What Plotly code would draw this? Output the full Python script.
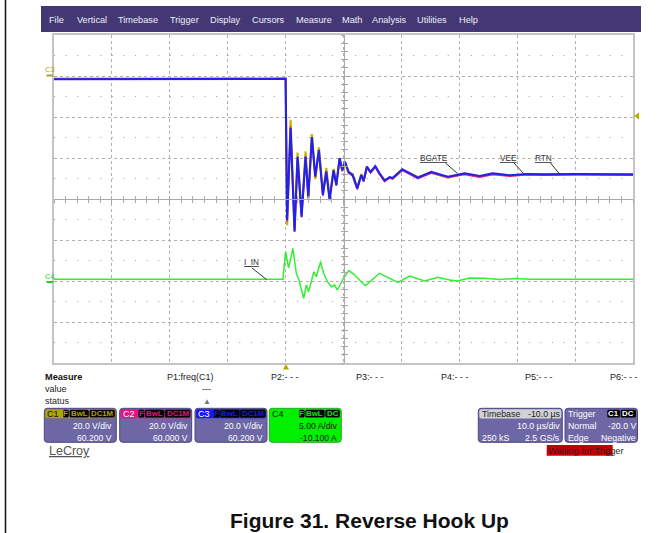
import plotly.graph_objects as go

W, H = 668, 533

# ---------------- data ----------------
# time in microseconds relative to the trigger point
t_v = [-40, -20, -0.3, 0.0, 0.26, 0.86, 1.55, 2.07, 2.76, 3.45, 3.92, 4.54, 5.13, 5.75,
       6.44, 7.03, 7.60, 8.29, 8.76, 9.33, 9.79, 10.24, 10.88, 11.57, 12.38, 13.07, 13.47,
       14.04, 14.68, 15.49, 16.23, 17.10, 17.96, 18.48, 20.15, 21.42, 22.85, 25.16, 28.03,
       30.92, 33.51, 35.8, 38.69, 41.6, 44.7, 50.0, 60.0]
# C1 (BGATE) volts
v_c1 = [-1.5, -1.5, -1.5, -1.4, -73.0, -21.5, -74.5, -37.5, -67.5, -37.0, -60.0, -28.5,
        -50.5, -35.0, -57.5, -45.0, -59.5, -45.5, -53.0, -40.5, -46.5, -42.5, -47.5, -48.0,
        -54.5, -48.0, -51.0, -44.8, -47.3, -44.5, -48.0, -51.0, -49.8, -50.3, -46.0, -47.5,
        -49.5, -47.4, -49.8, -47.9, -49.3, -48.1, -48.8, -48.3, -48.4, -48.3, -48.4]
# C2 (VEE) volts
v_c2 = [-1.6, -1.6, -1.6, -1.5, -71.0, -24.5, -75.5, -40.0, -69.0, -39.0, -59.5, -30.5,
        -49.0, -36.5, -58.5, -46.5, -60.0, -46.5, -53.5, -40.0, -46.5, -42.0, -47.2, -48.8,
        -55.3, -48.3, -51.6, -44.8, -47.2, -44.4, -47.9, -51.5, -49.7, -50.2, -46.0, -47.9,
        -50.0, -47.3, -49.5, -48.0, -49.3, -48.0, -48.9, -48.2, -48.4, -48.2, -48.4]
# C3 (RTN) volts
v_c3 = [-1.8, -1.8, -1.8, -1.6, -70.4, -25.6, -76.2, -39.6, -68.8, -39.6, -59.1, -30.0,
        -49.3, -36.3, -58.2, -46.9, -60.7, -46.1, -53.4, -40.3, -46.1, -42.0, -47.0, -48.5,
        -55.0, -48.5, -51.4, -44.4, -47.0, -44.1, -47.7, -51.2, -49.5, -50.0, -45.7, -47.7,
        -49.8, -47.0, -49.3, -47.7, -49.0, -47.7, -48.6, -48.0, -48.2, -48.0, -48.2]
# C4 (I_IN) amps
t_i = [-40, -0.47, 0.0, 0.52, 1.26, 1.85, 2.30, 3.11, 3.58, 3.97, 4.89, 5.30, 6.04, 6.56,
       7.25, 7.89, 8.46, 8.93, 9.90, 10.93, 11.74, 13.77, 16.23, 19.40, 21.42, 24.01, 26.30,
       28.32, 29.7, 31.8, 34.4, 36.96, 39.55, 42.1, 60.0]
i_c4 = [0.31, 0.31, 3.67, 1.69, 4.09, 1.04, 0.22, -2.01, -0.39, -1.20, 1.23, 0.62, 2.45,
        1.04, -0.02, -0.60, -0.39, -1.00, 0.31, 1.36, 0.95, -0.47, 1.04, -0.06, 0.71, 0.10,
        0.55, 0.22, 0.10, 0.47, 0.44, 0.28, 0.40, 0.32, 0.32]

# channel settings (scale per division, offset)
c1_scale, c1_off = 20.0, 60.2
c2_scale, c2_off = 20.0, 60.0
c3_scale, c3_off = 20.0, 60.2
c4_scale, c4_off = 5.0, -10.1

menu_items = ["File", "Vertical", "Timebase", "Trigger", "Display", "Cursors", "Measure",
              "Math", "Analysis", "Utilities", "Help"]
menu_x = [48, 76, 116.5, 169, 209, 250.5, 294.5, 341, 371, 416, 457.5]

FONT = "Liberation Sans, Arial, sans-serif"

def X(x):
    return x / W

def Y(y):
    return 1 - y / H

def to_div(vals, scale, off):
    return [(v + off) / scale for v in vals]

fig = go.Figure()

fig.add_trace(go.Scatter(x=t_v, y=to_div(v_c1, c1_scale, c1_off), mode="lines",
                         line=dict(color="#c4b400", width=2.2), hoverinfo="skip", showlegend=False))
fig.add_trace(go.Scatter(x=t_v, y=to_div(v_c2, c2_scale, c2_off), mode="lines",
                         line=dict(color="#ee2288", width=1.6), hoverinfo="skip", showlegend=False))
fig.add_trace(go.Scatter(x=t_v, y=to_div(v_c3, c3_scale, c3_off), mode="lines",
                         line=dict(color="#2222ee", width=2.1), hoverinfo="skip", showlegend=False))
fig.add_trace(go.Scatter(x=t_i, y=to_div(i_c4, c4_scale, c4_off), mode="lines",
                         line=dict(color="#33ee33", width=1.5), hoverinfo="skip", showlegend=False))
# dummy traces for the centre-axis overlays
fig.add_trace(go.Scatter(x=[], y=[], xaxis="x2", yaxis="y", showlegend=False))
fig.add_trace(go.Scatter(x=[], y=[], xaxis="x3", yaxis="y", showlegend=False))
fig.add_trace(go.Scatter(x=[], y=[], xaxis="x", yaxis="y2", showlegend=False))
fig.add_trace(go.Scatter(x=[], y=[], xaxis="x", yaxis="y3", showlegend=False))

xdom = [X(54), X(633)]
ydom = [Y(363), Y(35)]
xr = [-40, 60]
yr = [-4, 4]
cx = X(343.5)
cy = Y(199)

common_grid = dict(showgrid=True, gridcolor="#b0b0b0", griddash="dot", gridwidth=1,
                   zeroline=False, showticklabels=False, ticks="",
                   showline=True, mirror=True, linecolor="#c4c4c4", linewidth=1.5)

center_line = dict(showgrid=False, zeroline=False, showticklabels=False, showline=True,
                   linecolor="#a8a8a8", linewidth=1, ticklen=3, tickcolor="#a8a8a8",
                   tickwidth=1)

fig.update_layout(
    width=W, height=H, autosize=False,
    margin=dict(l=0, r=0, t=0, b=0),
    paper_bgcolor="white", plot_bgcolor="white",
    xaxis=dict(domain=xdom, range=xr, dtick=10, tick0=0, **common_grid),
    yaxis=dict(domain=ydom, range=yr, dtick=1, tick0=0, **common_grid),
    xaxis2=dict(overlaying="x", anchor="free", position=cy, range=xr, dtick=2, tick0=0,
                ticks="outside", **center_line),
    xaxis3=dict(overlaying="x", anchor="free", position=cy, range=xr, dtick=2, tick0=0,
                ticks="inside", **center_line),
    yaxis2=dict(overlaying="y", anchor="free", position=cx, range=yr, dtick=0.2, tick0=0,
                ticks="outside", **center_line),
    yaxis3=dict(overlaying="y", anchor="free", position=cx, range=yr, dtick=0.2, tick0=0,
                ticks="inside", **center_line),
    showlegend=False,
)

shapes = []
annotations = []

def txt(x, y, s, size=9, color="#222", anchor="left", bold=False):
    if bold:
        s = "<b>" + s + "</b>"
    annotations.append(dict(xref="paper", yref="paper", x=X(x), y=Y(y), text=s,
                            showarrow=False, xanchor=anchor, yanchor="middle",
                            font=dict(family=FONT, size=size, color=color), borderpad=0))

def rect(x0, y0, x1, y1, fill, line=None, lw=0, layer="above"):
    shapes.append(dict(type="rect", xref="paper", yref="paper", x0=X(x0), x1=X(x1),
                       y0=Y(y1), y1=Y(y0), fillcolor=fill, layer=layer,
                       line=dict(color=line or fill, width=lw)))

def rrect(x0, y0, x1, y1, r, fill, line=None, lw=0):
    p = (f"M {X(x0+r)},{Y(y0)} L {X(x1-r)},{Y(y0)} Q {X(x1)},{Y(y0)} {X(x1)},{Y(y0+r)} "
         f"L {X(x1)},{Y(y1-r)} Q {X(x1)},{Y(y1)} {X(x1-r)},{Y(y1)} L {X(x0+r)},{Y(y1)} "
         f"Q {X(x0)},{Y(y1)} {X(x0)},{Y(y1-r)} L {X(x0)},{Y(y0+r)} Q {X(x0)},{Y(y0)} {X(x0+r)},{Y(y0)} Z")
    shapes.append(dict(type="path", xref="paper", yref="paper", path=p, fillcolor=fill,
                       line=dict(color=line or fill, width=lw)))

def seg(x0, y0, x1, y1, color, w=1):
    shapes.append(dict(type="line", xref="paper", yref="paper", x0=X(x0), y0=Y(y0),
                       x1=X(x1), y1=Y(y1), line=dict(color=color, width=w)))

def tri(pts, color):
    p = "M " + " L ".join(f"{X(a)},{Y(b)}" for a, b in pts) + " Z"
    shapes.append(dict(type="path", xref="paper", yref="paper", path=p, fillcolor=color,
                       line=dict(color=color, width=0)))

# left page border
seg(5.5, 0, 5.5, H, "#111", 1.5)

# menu bar
rect(41, 6, 641, 32, "#433873")
for s, mx in zip(menu_items, menu_x):
    txt(mx, 19.5, s, size=9.2, color="#eeeef5")

# mid-division dotted rows
for k in range(8):
    yv = -3.5 + k
    shapes.append(dict(type="line", xref="x", yref="y", x0=xr[0], x1=xr[1], y0=yv, y1=yv,
                       layer="below", line=dict(color="#a0a0a0", width=1, dash="1px,10.58px")))

# channel ground markers
txt(44, 69.5, "C3", size=7.5, color="#b0a400")
seg(46.5, 75.5, 53, 75.5, "#b0a400", 2)
txt(44, 276, "C4", size=7.5, color="#22cc22")
seg(46.5, 282, 53, 282, "#22cc22", 2)

# trigger markers
tri([(639, 112.5), (639, 119.5), (634, 116)], "#b8a800")
tri([(283, 369.5), (289, 369.5), (286, 364)], "#b8a800")

# trace labels with leader lines
lab_col = "#333333"
txt(419, 158.5, "<u>BGATE</u>", size=8.2, color=lab_col)
seg(445.5, 163, 457.5, 173.5, lab_col, 1)
txt(499, 158.5, "<u>VEE</u>", size=8.2, color=lab_col)
seg(514, 163, 524, 174, lab_col, 1)
txt(534, 158.5, "<u>RTN</u>", size=8.2, color=lab_col)
seg(550.5, 163, 560, 174.5, lab_col, 1)
txt(242.5, 263, "<u>I_IN</u>", size=8.2, color=lab_col)
seg(252, 268, 266.5, 279.5, lab_col, 1)

# measure area
txt(44, 376.5, "Measure", size=9.2, color="#111", bold=True)
txt(44, 389, "value", size=9, color="#222")
txt(44, 401, "status", size=9, color="#222")
txt(165.5, 376.5, "P1:freq(C1)", size=9, color="#222")
txt(270, 376.5, "P2:- - -", size=9, color="#222")
txt(355, 376.5, "P3:- - -", size=9, color="#222")
txt(440, 376.5, "P4:- - -", size=9, color="#222")
txt(524, 376.5, "P5:- - -", size=9, color="#222")
txt(608.5, 376.5, "P6:- - -", size=9, color="#222")
txt(207, 389, "---", size=9, color="#222", anchor="center")
txt(207, 401, "▲", size=8, color="#777", anchor="center")

# channel boxes
body_col = "#6d67a5"
edge_col = "#4c4683"
channels = [
    (44.3, "C1", "#b0a400", "#111111", "#b0a400", ["F", "BwL", "DC1M"], "20.0 V/div", "60.200 V", body_col, "white"),
    (119.7, "C2", "#e4157f", "#ffffff", "#e4157f", ["F", "BwL", "DC1M"], "20.0 V/div", "60.000 V", body_col, "white"),
    (195.0, "C3", "#1a1ae6", "#ffffff", "#1a1ae6", ["F", "BwL", "DC1M"], "20.0 V/div", "60.200 V", body_col, "white"),
    (269.3, "C4", "#00f000", "#111111", "#00f000", ["F", "BwL", "DC"], "5.00 A/div", "-10.100 A", "#00f000", "#111111"),
]
badge_spans = {"F": 5.7, "BwL": 19.3, "DC1M": 25.3, "DC": 14.5}
for x0, name, hcol, ncol, bcol, badges, l1, l2, bcolbody, tcol in channels:
    x1 = x0 + 72
    rrect(x0, 408.3, x1, 442.3, 3, bcolbody, edge_col if name != "C4" else "#22aa22", 1)
    rrect(x0 + 1, 409.2, x1 - 1, 418.2, 2, hcol)
    txt(x0 + 2, 413.7, name, size=9, color=ncol)
    bx = x1 - 1.5
    for b in reversed(badges):
        wspan = badge_spans[b]
        rrect(bx - wspan, 409.8, bx, 417.6, 1.5, "#000000")
        txt(bx - wspan / 2, 413.8, b, size=7.8, color=bcol, anchor="center", bold=True)
        bx -= wspan + 0.7
    txt(x1 - 3, 426, l1, size=8.6, color=tcol, anchor="right")
    txt(x1 - 3, 437.5, l2, size=8.6, color=tcol, anchor="right")

# timebase box
rrect(478.3, 408.3, 562.3, 442.3, 3, body_col, edge_col, 1)
rrect(479.3, 409.2, 561.3, 418.5, 2, "#d2d2d6")
txt(481, 413.8, "Timebase", size=8.8, color="#222")
txt(561.5, 413.8, "-10.0 µs", size=8.8, color="#222", anchor="right")
txt(561, 426, "10.0 µs/div", size=8.8, color="white", anchor="right")
txt(481, 437.5, "250 kS", size=8.8, color="white")
txt(561, 437.5, "2.5 GS/s", size=8.8, color="white", anchor="right")

# trigger box
rrect(565, 408.3, 637.5, 442.3, 3, body_col, edge_col, 1)
txt(567, 413.8, "Trigger", size=8.8, color="white")
rrect(607.3, 409.8, 620, 417.6, 1.5, "#000000")
txt(613.6, 413.8, "C1", size=7.8, color="white", anchor="center", bold=True)
rrect(620.7, 409.8, 636, 417.6, 1.5, "#000000")
txt(628.3, 413.8, "DC", size=7.8, color="white", anchor="center", bold=True)
txt(567, 426, "Normal", size=8.8, color="white")
txt(636.5, 426, "-20.0 V", size=8.8, color="white", anchor="right")
txt(567, 437.5, "Edge", size=8.8, color="white")
txt(636.5, 437.5, "Negative", size=8.8, color="white", anchor="right")

# waiting for trigger
rect(546.7, 445, 612.7, 455.7, "#c40000")
txt(547, 450.5, "Waiting for Trigger", size=9.3, color="#2a2a2a")

# LeCroy logo text
txt(47.5, 450.5, "<u>LeCroy</u>", size=12.5, color="#555555")

# figure caption
annotations.append(dict(xref="paper", yref="paper", x=X(369.5), y=Y(520), text="<b>Figure 31. Reverse Hook Up</b>",
                        showarrow=False, xanchor="center", yanchor="middle",
                        font=dict(family=FONT, size=21, color="#111111")))

fig.update_layout(shapes=shapes, annotations=annotations)
fig.write_html("out.html", config={"displayModeBar": False},
               post_script="document.body.style.margin='0px';document.body.style.overflow='hidden';")
